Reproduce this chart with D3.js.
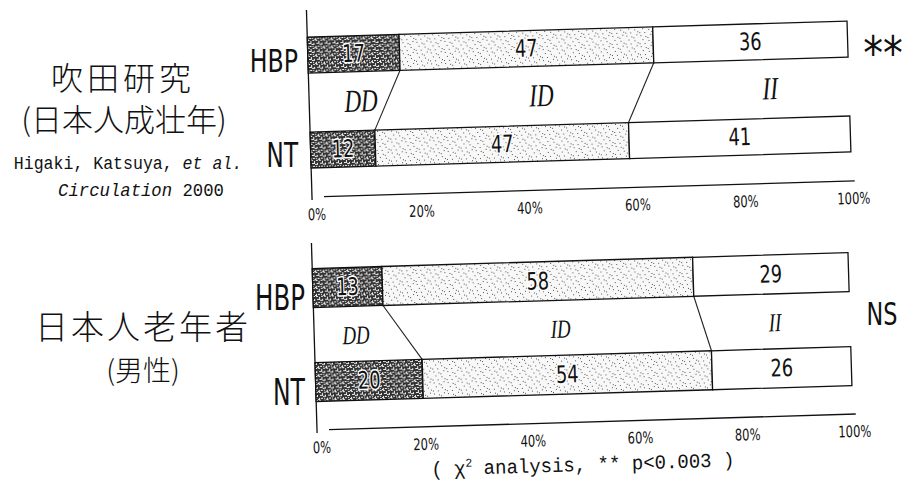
<!DOCTYPE html>
<html>
<head>
<meta charset="utf-8">
<script src="https://cdn.jsdelivr.net/npm/d3@7"></script>
<style>
  body { margin: 0; background: #fff; }
  svg { display: block; }
  .jp { font-family: "Noto Sans CJK JP", sans-serif; font-weight: 300; fill: #111; }
  .narrow { font-family: "DejaVu Sans", sans-serif; fill: #111; }
  .mono { font-family: "Liberation Mono", "DejaVu Sans Mono", monospace; fill: #111; }
  .geno { font-family: "Liberation Serif", "DejaVu Serif", serif; font-style: italic; fill: #111; }
</style>
</head>
<body>
<div id="chart"></div>
<script>
// data
var groups = ["HBP", "NT"];
var genotypes = ["DD", "ID", "II"];
var suitaHBP = [17, 47, 36];
var suitaNT = [12, 47, 41];
var elderlyHBP = [13, 58, 29];
var elderlyNT = [20, 54, 26];
var tickValues = [0, 20, 40, 60, 80, 100];
var signif = ["**", "NS"];

var width = 905, height = 485;
var tilt = -1.7;   // the scanned slide sits slightly askew

var svg = d3.select('#chart').append('svg')
    .attr("width", width)
    .attr("height", height);

// horizontally squeezed text (the slide uses a condensed face)
function squeezed(parent, x, y, sx, cls, size, anchor) {
  return parent.append("g")
      .attr("transform", "translate(" + x + "," + y + ") scale(" + sx + ",1)")
    .append("text")
      .attr("class", cls)
      .attr("font-size", size)
      .attr("text-anchor", anchor || "middle");
}

// textures: dark stipple for DD, sparse dots for ID
var defs = svg.append("defs");
var dark = defs.append("pattern").attr("id", "dd")
    .attr("patternUnits", "userSpaceOnUse").attr("width", 8).attr("height", 8);
dark.append("rect").attr("width", 8).attr("height", 8).attr("fill", "#333");
[[0,0,2,1],[3,1,1,2],[5,0,2,1],[1,3,2,1],[6,3,1,2],[4,4,2,1],[0,6,1,2],[2,6,2,1],[5,6,1,1],[7,7,1,1],[3,3,1,1]]
  .forEach(function(d) {
    dark.append("rect").attr("x", d[0]).attr("y", d[1]).attr("width", d[2]).attr("height", d[3]).attr("fill", "#eee");
  });
var light = defs.append("pattern").attr("id", "id")
    .attr("patternUnits", "userSpaceOnUse").attr("width", 14).attr("height", 11);
light.append("rect").attr("width", 14).attr("height", 11).attr("fill", "#f8f8f8");
[[1,1],[6,2],[11,0],[3,5],[9,6],[12,8],[0,9],[5,9],[8,3]]
  .forEach(function(d) {
    light.append("rect").attr("x", d[0]).attr("y", d[1]).attr("width", 1).attr("height", 1).attr("fill", "#555");
  });
var fills = { DD: "url(#dd)", ID: "url(#id)", II: "#fff" };

var panels = [
  { rows: [suitaHBP, suitaNT], x0: 312, x1: 852, yHBP: 55, yNT: 150, barH: 36,
    axisTop: 10, axisY: 197, labelY: 113, labelSize: 32, labelAt: [9.6, 43, 85.4],
    rowLabel: [{ x: 298, y: 72, size: 32, sx: 0.74 }, { x: 298, y: 167, size: 33, sx: 0.7 }],
    sig: signif[0], sigX: 883, sigY: 69, sigSize: 46, sigSx: 0.86 },
  { rows: [elderlyHBP, elderlyNT], x0: 317, x1: 853, yHBP: 288, yNT: 382, barH: 39,
    axisTop: 243, axisY: 430, labelY: 345, labelSize: 26, labelAt: [7.8, 46, 86],
    rowLabel: [{ x: 305, y: 310, size: 36, sx: 0.68 }, { x: 305, y: 405, size: 38, sx: 0.62 }],
    sig: signif[1], sigX: 882, sigY: 325, sigSize: 32, sigSx: 0.7 }
];

panels.forEach(function(p) {
  var g = svg.append("g")
      .attr("transform", "rotate(" + tilt + "," + p.x0 + "," + p.axisY + ")");
  var x = d3.scaleLinear().domain([0, 100]).range([p.x0, p.x1]);
  var y = d3.scaleOrdinal().domain(groups).range([p.yHBP, p.yNT]);

  // stack rows into segments
  var rows = groups.map(function(grp, i) {
    var acc = 0;
    return p.rows[i].map(function(v, j) {
      var seg = { group: grp, geno: genotypes[j], value: v, start: acc, end: acc + v };
      acc += v;
      return seg;
    });
  });

  // y axis line
  g.append("line")
      .attr("x1", x(0)).attr("x2", x(0))
      .attr("y1", p.axisTop).attr("y2", p.axisY + 3)
      .attr("stroke", "#111").attr("stroke-width", 1.3);

  // bottom axis
  var axis = g.append("g")
      .attr("transform", "translate(0," + p.axisY + ")")
      .call(d3.axisBottom(x).tickValues(tickValues).tickSize(0));
  axis.select(".domain")
      .attr("d", "M" + (x(0) + 12) + ",0H" + (x(100) + 3))
      .attr("stroke", "#111").attr("stroke-width", 1.3);
  axis.selectAll(".tick text").remove();
  axis.selectAll(".tick").each(function(d) {
    squeezed(d3.select(this), d === 0 ? 4 : 1, 23, 0.72, "narrow", 16)
        .text(d + "%");
  });

  // connecting lines between boundaries
  [0, 1].forEach(function(k) {
    g.append("line")
        .attr("x1", x(rows[0][k].end)).attr("y1", y("HBP") + p.barH / 2)
        .attr("x2", x(rows[1][k].end)).attr("y2", y("NT") - p.barH / 2)
        .attr("stroke", "#222").attr("stroke-width", 1.1);
  });

  // bars
  rows.forEach(function(r) {
    g.selectAll(null).data(r).enter().append("rect")
        .attr("x", function(d) { return x(d.start); })
        .attr("y", function(d) { return y(d.group) - p.barH / 2; })
        .attr("width", function(d) { return x(d.end) - x(d.start); })
        .attr("height", p.barH)
        .attr("fill", function(d) { return fills[d.geno]; })
        .attr("stroke", "#111").attr("stroke-width", 1.3);
    r.forEach(function(d) {
      var t = squeezed(g, x((d.start + d.end) / 2), y(d.group) + 8, 0.74, "narrow", 24)
          .text(d.value);
      if (d.geno !== "II") {
        t.style("paint-order", "stroke")
            .attr("stroke", "#fff")
            .attr("stroke-width", 3)
            .attr("stroke-linejoin", "round");
      }
    });
  });

  // genotype labels between rows
  genotypes.forEach(function(gt, j) {
    squeezed(g, x(p.labelAt[j]), p.labelY, 0.72, "geno", p.labelSize)
        .text(gt);
  });

  // row labels
  groups.forEach(function(grp, i) {
    var L = p.rowLabel[i];
    squeezed(svg, L.x, L.y, L.sx, "narrow", L.size, "end")
        .text(grp);
  });

  // significance mark
  squeezed(svg, p.sigX, p.sigY, p.sigSx, "narrow", p.sigSize)
      .text(p.sig);
});

// study titles
svg.append("text").attr("class", "jp").attr("x", 123).attr("y", 90)
    .attr("text-anchor", "middle").attr("font-size", 32)
    .attr("letter-spacing", 4).text("吹田研究");
svg.append("text").attr("class", "jp").attr("x", 124).attr("y", 131)
    .attr("text-anchor", "middle").attr("font-size", 31).text("(日本人成壮年)");
squeezed(svg, 128, 169, 0.92, "mono", 18)
    .html('Higaki, Katsuya, <tspan font-style="italic">et al.</tspan>');
squeezed(svg, 141, 196, 0.96, "mono", 18)
    .html('<tspan font-style="italic">Circulation</tspan>  2000');
svg.append("text").attr("class", "jp").attr("x", 143).attr("y", 339)
    .attr("text-anchor", "middle").attr("font-size", 33)
    .attr("letter-spacing", 3).text("日本人老年者");
svg.append("text").attr("class", "jp").attr("x", 143).attr("y", 381)
    .attr("text-anchor", "middle").attr("font-size", 28).text("(男性)");

// footnote
squeezed(svg, 583, 471, 0.95, "mono", 20)
    .attr("transform", "rotate(" + tilt + ")")
    .html('( χ<tspan dy="-8" font-size="12">2</tspan><tspan dy="8"> analysis, ** p&lt;0.003 )</tspan>');
</script>
</body>
</html>
